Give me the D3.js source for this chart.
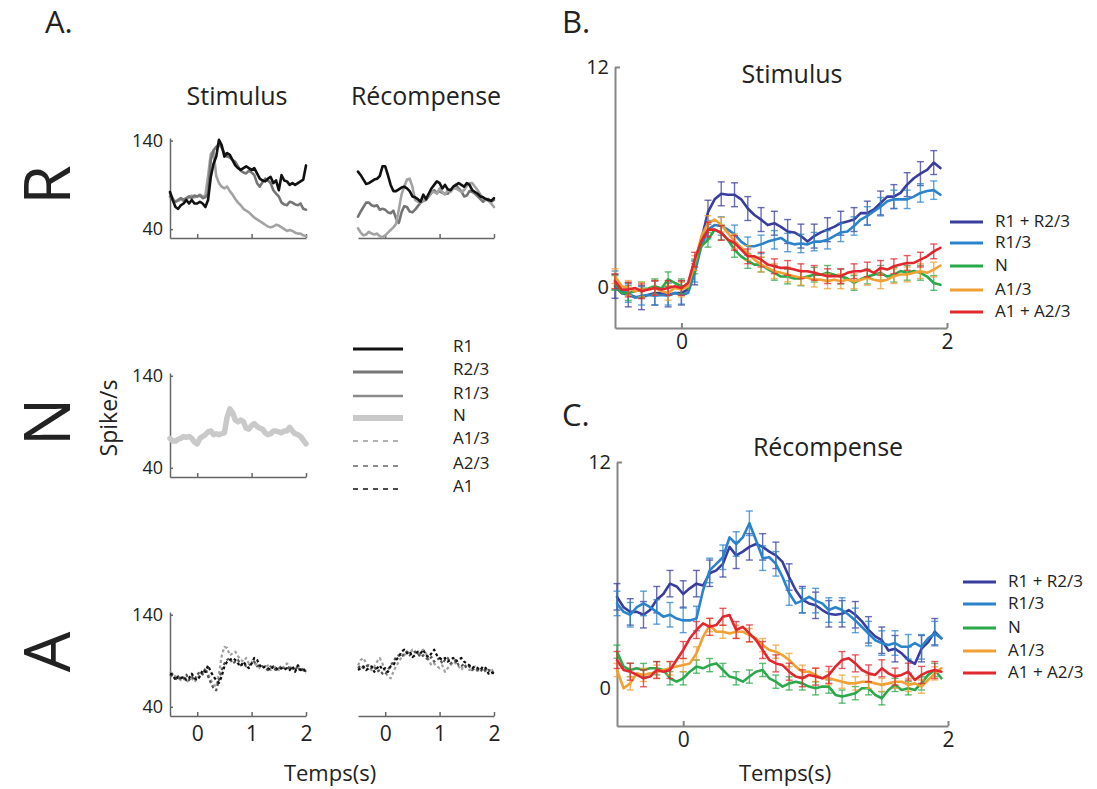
<!DOCTYPE html>
<html><head><meta charset="utf-8">
<script src="https://cdn.jsdelivr.net/npm/d3@7"></script>
<style>
body{margin:0;background:#fff;}
text{font-family:"Open Sans",sans-serif;fill:#222;}
</style>
</head><body>
<svg id="chart" width="1097" height="789"></svg>
<script>
// ---------- Panel A data (spike/s), time -0.5..2 s step 0.05 ----------
const timeA = d3.range(51).map(i => -0.5 + i * 0.05);
const stimR1  = [82,73,65,63,67,69,73,69,73,69,69,71,69,65,73,99,114,122,141,135,122,126,124,118,112,109,107,109,111,109,107,109,103,97,95,94,97,99,92,95,84,101,95,94,90,92,90,92,94,96,112];
const stimR23 = [77,73,71,73,75,73,75,77,75,78,77,78,75,76,80,118,129,133,136,132,126,122,121,118,116,111,106,104,103,106,104,101,92,88,93,97,95,92,84,80,77,70,68,67,71,70,68,67,69,63,62];
const stimR13 = [80,75,71,72,74,72,74,76,78,76,77,79,77,78,100,125,128,100,92,88,86,88,83,79,74,70,67,63,61,59,56,53,51,49,47,45,43,42,43,45,44,42,40,38,39,38,36,35,35,33,32];
const rewR1   = [105,101,96,91,92,94,96,97,100,111,111,101,90,83,83,85,87,88,86,83,77,76,74,71,79,74,80,86,90,94,92,86,90,85,84,88,90,92,90,88,92,90,84,82,80,77,76,74,73,72,75];
const rewR23  = [54,60,65,70,70,67,66,67,62,63,62,59,58,61,52,47,59,66,65,60,59,62,66,70,72,73,77,81,84,81,83,81,80,80,84,87,90,86,83,77,78,83,82,80,77,74,71,74,74,71,73];
const rewR13  = [41,36,33,34,37,35,34,35,32,31,33,36,39,42,46,62,79,88,96,97,88,73,71,70,73,75,77,82,82,80,86,82,79,84,82,86,86,84,82,84,89,92,92,88,84,79,75,73,72,69,65];
const stimN   = [72,69,69,71,72,74,73,74,72,68,66,72,74,76,79,80,76,77,76,77,78,95,104,100,92,90,92,90,83,82,86,88,85,83,82,78,76,77,80,80,79,78,80,80,84,80,77,76,74,70,66];
const stimA1  = [76,75,69,73,71,73,69,71,76,71,69,73,80,78,85,78,73,69,66,73,84,89,91,93,91,87,84,89,85,82,87,93,91,85,82,84,82,80,84,82,80,82,80,82,80,84,78,85,80,82,76];
const stimA23 = [75,73,71,69,73,71,75,69,73,69,75,78,75,82,73,66,60,58,69,80,87,91,93,87,89,91,85,87,84,85,87,89,84,85,84,82,80,84,82,80,82,84,82,80,84,82,80,84,78,82,78];
const stimA13 = [78,76,73,71,69,71,67,69,71,67,71,75,76,80,76,69,64,62,76,95,105,104,96,98,100,95,91,89,93,87,89,85,87,82,84,82,85,80,82,84,80,82,84,87,84,80,82,85,82,80,78];
const rewA1   = [80,82,84,80,82,84,78,82,85,80,82,78,84,85,91,94,100,102,98,100,94,96,100,98,102,96,94,98,102,96,93,91,93,89,91,93,89,91,93,89,87,85,82,84,82,80,84,82,76,78,76];
const rewA23  = [82,85,82,84,85,82,84,78,80,76,75,80,85,89,94,96,94,98,100,96,98,100,98,94,96,93,91,94,89,91,93,87,91,93,87,89,91,85,84,87,82,84,80,82,80,78,82,78,80,76,78];
const rewA13  = [85,91,93,87,82,80,84,89,93,87,78,73,71,78,84,89,94,96,100,98,102,100,96,100,102,98,91,85,87,84,82,85,78,82,85,89,87,84,80,85,82,80,82,84,78,80,82,80,78,82,76];
const legendA = ["R1","R2/3","R1/3","N","A1/3","A2/3","A1"];
const yTicksA = [40,140];
const xTicksA = [0,1,2];

// ---------- Panels B & C data (normalized), time -0.5..1.95 s step 0.05 ----------
const timeBC = d3.range(50).map(i => -0.5 + i * 0.05);
const namesBC = ["R1 + R2/3","R1/3","N","A1/3","A1 + A2/3"];
const B_R1R23 = [0.07,-0.3,-0.4,-0.5,-0.55,-0.4,-0.3,-0.3,-0.4,-0.3,-0.3,-0.1,0.8,2.6,4.1,4.8,5.1,5.05,5.05,4.8,4.3,3.95,3.7,3.4,3.5,3.3,3.05,3.0,2.8,2.5,2.8,3.0,3.15,3.3,3.5,3.6,3.7,4.05,4.05,4.25,4.6,4.95,4.95,5.15,5.6,5.95,6.2,6.4,6.8,6.5];
const B_R13   = [0.4,-0.2,-0.3,-0.55,-0.45,-0.4,-0.45,-0.4,-0.45,-0.3,-0.4,-0.3,0.8,2.25,3.15,3.4,3.35,3.15,2.9,2.5,2.25,2.25,2.35,2.5,2.6,2.7,2.45,2.35,2.4,2.35,2.5,2.5,2.6,2.8,3.0,3.05,3.35,3.7,3.9,4.15,4.4,4.7,4.8,4.8,4.8,4.95,5.15,5.25,5.3,5.05];
const B_N     = [0.25,-0.3,-0.3,-0.2,-0.1,-0.05,0.07,-0.05,0.45,0.25,0.07,-0.05,1.15,2.25,2.6,3.15,3.0,2.6,2.05,1.7,1.45,1.25,1.25,1.0,0.8,0.6,0.6,0.5,0.5,0.6,0.7,0.7,0.8,0.7,0.6,0.5,0.25,0.45,0.6,0.7,0.8,0.6,0.7,0.9,0.8,0.9,0.8,0.6,0.25,0.15];
const B_A13   = [0.62,0.07,-0.02,-0.2,-0.11,-0.11,-0.02,-0.2,-0.29,-0.02,-0.11,0.07,1.34,2.79,3.51,3.7,3.42,2.97,2.52,2.16,1.88,1.52,1.25,1.07,0.89,0.8,0.71,0.62,0.53,0.53,0.43,0.43,0.34,0.43,0.34,0.43,0.34,0.43,0.53,0.43,0.34,0.43,0.62,0.71,0.71,0.8,0.89,0.8,0.98,1.2];
const B_A1A23 = [0.34,-0.11,-0.11,-0.02,-0.2,-0.11,-0.02,-0.11,-0.02,0.07,-0.02,0.25,1.52,2.52,3.15,3.15,2.97,2.61,2.43,2.07,1.7,1.7,1.52,1.25,1.16,1.07,1.07,0.98,0.89,0.89,0.8,0.71,0.62,0.62,0.62,0.8,0.89,0.89,0.98,0.8,1.07,0.98,1.16,1.25,1.34,1.34,1.52,1.7,1.97,2.16];
const C_R1R23 = [4.85,4.3,4.05,4.05,3.9,4.15,4.7,5.0,5.55,5.4,5.0,5.3,5.55,5.45,6.1,6.25,6.6,7.5,7.05,7.25,7.5,7.65,7.5,7.25,7.05,6.7,5.9,5.2,4.7,4.5,4.4,4.15,3.95,3.9,3.95,4.15,3.9,3.55,3.1,2.75,2.55,2.0,2.1,1.85,1.5,1.3,2.1,2.45,3.0,2.65];
const C_R13   = [4.5,4.05,3.9,4.3,4.5,4.3,4.05,3.8,3.9,3.7,3.6,3.6,3.7,5.2,6.25,6.6,6.95,8.0,7.65,8.0,8.75,7.85,6.9,6.95,6.6,5.9,5.05,4.5,4.65,4.85,4.65,4.5,4.15,4.3,4.15,3.9,3.6,3.25,2.9,2.55,2.4,2.3,2.4,2.2,2.2,2.4,2.2,2.65,2.9,2.65];
const C_N     = [1.94,1.15,0.97,1.06,0.97,1.06,1.06,0.97,0.53,0.35,0.53,0.88,1.15,1.06,1.23,1.32,0.97,0.62,0.53,0.35,0.62,0.88,0.97,0.53,0.35,0.09,0.26,0.35,0.26,0.09,0,0.09,0.09,-0.35,-0.44,-0.35,-0.26,0,0,-0.35,-0.53,-0.09,0.18,-0.09,0,-0.09,0.26,0.71,0.97,0.53];
const C_A13   = [0.97,0,0.26,0.79,0.71,0.79,0.88,0.97,1.06,1.15,1.23,1.32,1.85,2.73,3.35,3.0,3.0,2.91,3.0,3.0,2.82,2.65,2.29,2.03,1.94,1.76,1.5,1.15,0.88,0.88,0.71,0.53,0.53,0.44,0.35,0.26,0.26,0.35,0.35,0.26,0.18,0.26,0.35,0.35,0.18,0.26,0.09,0.44,0.79,1.06];
const C_A1A23 = [1.5,0.97,0.88,0.71,0.53,0.62,0.97,0.88,0.97,1.5,2.03,2.65,3.09,3.44,3.26,3.35,3.79,3.88,3.09,3.26,2.91,2.56,2.03,1.5,1.32,1.23,0.88,0.62,0.53,0.71,0.62,0.53,0.71,1.15,1.5,1.59,1.32,0.97,0.79,0.71,1.06,0.79,0.62,0.71,0.88,0.44,0.71,0.88,0.97,0.88];
const errB = [0.65,0.5,0.4,0.4,0.4];
const errC = [0.7,0.65,0.35,0.35,0.45];
const yTicksBC = [0,12];
const xTicksBC = [0,2];

// ---------- styles ----------
const colorsBC = ["#383d9e","#2b83cc","#2aa84a","#f0a035","#e1282e"];
const stylesA = {
  "R1":   {c:"#111111", w:2.6, d:null},
  "R2/3": {c:"#757575", w:2.6, d:null},
  "R1/3": {c:"#a3a3a3", w:2.6, d:null},
  "N":    {c:"#c9c9c9", w:5.5, d:null},
  "A1/3": {c:"#a0a0a0", w:2.2, d:"3,2.5"},
  "A2/3": {c:"#555555", w:2.2, d:"3,2.5"},
  "A1":   {c:"#111111", w:2.2, d:"3,2.5"}
};
const legendStyleA = {
  "R1":{c:"#111",w:3,d:null},"R2/3":{c:"#777",w:3,d:null},"R1/3":{c:"#8a8a8a",w:2.4,d:null},
  "N":{c:"#c9c9c9",w:6,d:null},"A1/3":{c:"#999",w:1.6,d:"5,5"},"A2/3":{c:"#666",w:1.6,d:"5,5"},"A1":{c:"#111",w:1.6,d:"5,5"}
};

const svg = d3.select("#chart");
const axisColA = "#666";
const axisColBC = "#858585";

// ---------- Panel A ----------
const xStim = d3.scaleLinear([-0.5, 2], [170, 306]);
const xRew  = d3.scaleLinear([-0.5, 2], [358, 494]);
const rows = {R:[138,238], N:[373,477], A:[612,716]};
const yRow = {};
for (const k in rows) yRow[k] = d3.scaleLinear([30, 143], [rows[k][1], rows[k][0]]);

function styleAxis(g, col, w, fs) {
  g.select(".domain").attr("stroke", col).attr("stroke-width", w);
  g.selectAll(".tick line").attr("stroke", col).attr("stroke-width", w);
  g.selectAll(".tick text").attr("fill", "#222").style("font-size", fs + "px")
    .style("font-family", '"Open Sans",sans-serif');
}

function panelAAxes(rowKey, x, withY, withXLabels) {
  const y = yRow[rowKey];
  const gx = svg.append("g").attr("transform", `translate(0,${rows[rowKey][1]})`)
    .call(d3.axisBottom(x).tickValues(xTicksA).tickSizeInner(-4).tickSizeOuter(0).tickPadding(10)
      .tickFormat(withXLabels ? d3.format("d") : ""));
  styleAxis(gx, axisColA, 1.5, 21);
  if (withY) {
    const gy = svg.append("g").attr("transform", `translate(${x.range()[0]},0)`)
      .call(d3.axisLeft(y).tickValues(yTicksA).tickSizeInner(-3).tickSizeOuter(0).tickPadding(7));
    styleAxis(gy, axisColA, 1.5, 18);
  }
}

function lineA(x, y, data, key) {
  const s = stylesA[key];
  const gen = d3.line().x((d, i) => x(timeA[i])).y(d => y(d)).curve(d3.curveLinear);
  svg.append("path").attr("d", gen(data)).attr("fill", "none")
    .attr("stroke", s.c).attr("stroke-width", s.w).attr("stroke-linejoin", "round")
    .attr("stroke-linecap", s.d ? "butt" : "round")
    .attr("stroke-dasharray", s.d);
}

panelAAxes("R", xStim, true, false);
panelAAxes("R", xRew, false, false);
panelAAxes("N", xStim, true, false);
panelAAxes("A", xStim, true, true);
panelAAxes("A", xRew, false, true);

lineA(xStim, yRow.R, stimR13, "R1/3");
lineA(xStim, yRow.R, stimR23, "R2/3");
lineA(xStim, yRow.R, stimR1, "R1");
lineA(xRew, yRow.R, rewR23, "R2/3");
lineA(xRew, yRow.R, rewR13, "R1/3");
lineA(xRew, yRow.R, rewR1, "R1");
lineA(xStim, yRow.N, stimN, "N");
lineA(xStim, yRow.A, stimA13, "A1/3");
lineA(xStim, yRow.A, stimA23, "A2/3");
lineA(xStim, yRow.A, stimA1, "A1");
lineA(xRew, yRow.A, rewA13, "A1/3");
lineA(xRew, yRow.A, rewA23, "A2/3");
lineA(xRew, yRow.A, rewA1, "A1");

// middle legend
const legAy = [349, 372, 396, 418, 441, 466, 489];
legendA.forEach((k, i) => {
  const s = legendStyleA[k];
  svg.append("line").attr("x1", 353).attr("x2", 403).attr("y1", legAy[i]).attr("y2", legAy[i])
    .attr("stroke", s.c).attr("stroke-width", s.w).attr("stroke-dasharray", s.d);
  svg.append("text").attr("x", 453).attr("y", legAy[i] - 2).attr("dominant-baseline", "middle")
    .style("font-size", "17px").text(k);
});

// Panel A texts
svg.append("text").attr("x", 45).attr("y", 33).style("font-size", "31px").text("A.");
svg.append("text").attr("x", 237).attr("y", 105).attr("text-anchor", "middle").style("font-size", "25px").text("Stimulus");
svg.append("text").attr("x", 426).attr("y", 105).attr("text-anchor", "middle").style("font-size", "25px").text("Récompense");
[["R",185],["N",422],["A",652]].forEach(([t, yy]) => {
  svg.append("text").attr("transform", `translate(45,${yy}) rotate(-90)`)
    .attr("text-anchor", "middle").attr("dominant-baseline", "central")
    .style("font-size", "64px").text(t);
});
svg.append("text").attr("transform", "translate(108,418) rotate(-90)")
  .attr("text-anchor", "middle").attr("dominant-baseline", "central")
  .style("font-size", "23px").text("Spike/s");
svg.append("text").attr("x", 330).attr("y", 781).attr("text-anchor", "middle").style("font-size", "22px").text("Temps(s)");

// ---------- Panels B & C ----------
function panelBC(x, y, series, errs, title, titleX, titleY, legX, legY) {
  const gx = svg.append("g").attr("transform", `translate(0,${y.range()[0]})`)
    .call(d3.axisBottom(x).tickValues(xTicksBC).tickSizeInner(-5).tickSizeOuter(0).tickPadding(6).tickFormat(d3.format("d")));
  styleAxis(gx, axisColBC, 2, 21);
  const gy = svg.append("g").attr("transform", `translate(${x.range()[0]},0)`)
    .call(d3.axisLeft(y).tickValues(yTicksBC).tickSizeInner(-5).tickSizeOuter(0).tickPadding(6).tickFormat(d3.format("d")));
  styleAxis(gy, axisColBC, 2, 20);
  gy.selectAll(".tick").filter(d => d === 0).select("line").remove();

  series.forEach((data, si) => {
    const col = colorsBC[si];
    const g = svg.append("g");
    const e = errs[si];
    data.forEach((v, i) => {
      if (i % 2 !== 0) return;
      const xx = x(timeBC[i]);
      g.append("line").attr("x1", xx).attr("x2", xx).attr("y1", y(v - e)).attr("y2", y(v + e))
        .attr("stroke", col).attr("stroke-width", 1.4).attr("opacity", 0.75);
      [v - e, v + e].forEach(vv => {
        g.append("line").attr("x1", xx - 3.5).attr("x2", xx + 3.5).attr("y1", y(vv)).attr("y2", y(vv))
          .attr("stroke", col).attr("stroke-width", 1.4).attr("opacity", 0.75);
      });
    });
    const gen = d3.line().x((d, i) => x(timeBC[i])).y(d => y(d));
    g.append("path").attr("d", gen(data)).attr("fill", "none").attr("stroke", col)
      .attr("stroke-width", 2.6).attr("stroke-linejoin", "round").attr("stroke-linecap", "round");
  });

  svg.append("text").attr("x", titleX).attr("y", titleY).attr("text-anchor", "middle").style("font-size", "25px").text(title);
  namesBC.forEach((n, i) => {
    svg.append("line").attr("x1", legX).attr("x2", legX + 33).attr("y1", legY[i]).attr("y2", legY[i])
      .attr("stroke", colorsBC[i]).attr("stroke-width", 3.2);
    svg.append("text").attr("x", legX + 45).attr("y", legY[i]).attr("dominant-baseline", "middle")
      .style("font-size", "17px").text(n);
  });
}

const xB = d3.scaleLinear([-0.5, 2], [615, 947]);
const yB = d3.scaleLinear([-2.2, 12], [328, 67]);
panelBC(xB, yB, [B_R1R23, B_R13, B_N, B_A13, B_A1A23], errB, "Stimulus", 792, 83, 950, [222, 243, 266, 290, 312]);

const xC = d3.scaleLinear([-0.5, 2], [617, 948]);
const yC = d3.scaleLinear([-2, 12], [726, 462]);
panelBC(xC, yC, [C_R1R23, C_R13, C_N, C_A13, C_A1A23], errC, "Récompense", 828, 456, 963, [582, 604, 628, 651, 673]);

svg.append("text").attr("x", 562).attr("y", 33).style("font-size", "31px").text("B.");
svg.append("text").attr("x", 562).attr("y", 426).style("font-size", "31px").text("C.");
svg.append("text").attr("x", 785).attr("y", 781).attr("text-anchor", "middle").style("font-size", "22px").text("Temps(s)");
</script>
</body></html>
